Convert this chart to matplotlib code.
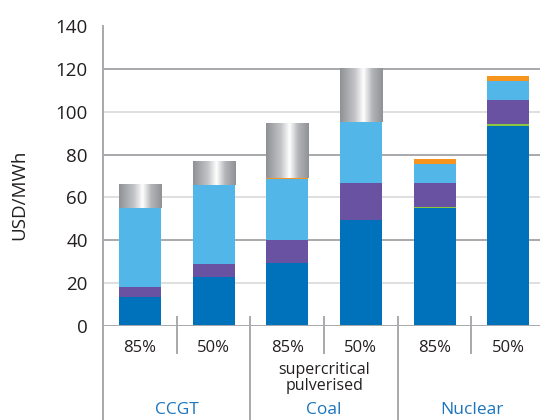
import numpy as np
import matplotlib
matplotlib.use('Agg')
import matplotlib.pyplot as plt
from matplotlib.colors import LinearSegmentedColormap

plt.rcParams['font.family'] = ['Open Sans', 'DejaVu Sans']

# valores (USD/MWh)
labels = ['85%', '50%', '85%', '50%', '85%', '50%']
groups = ['CCGT', 'Coal', 'Nuclear']
blue = [13.5, 23.0, 29.3, 49.5, 55.0, 93.4]
green = [0, 0, 0, 0, 0.6, 0.9]
purple = [4.7, 6.0, 10.8, 17.3, 11.2, 11.2]
light_blue = [37.0, 36.8, 28.7, 28.4, 8.8, 8.9]
orange = [0, 0, 0.3, 0, 2.4, 2.3]
gray = [11.2, 11.2, 25.5, 25.2, 0, 0]

fig = plt.figure(figsize=(5.4, 4.2), dpi=100)
ax = fig.add_axes([0.1907, 0.2238, 0.8093, 0.714])

x = np.arange(len(labels))
w = 0.57
bottom = np.zeros(len(labels))
for vals, col in [(blue, '#0071BB'), (green, '#8DC63F'), (purple, '#6A52A2'),
                  (light_blue, '#52B7E8'), (orange, '#F7941D')]:
    ax.bar(x, vals, w, bottom=bottom, color=col, zorder=3)
    bottom += np.array(vals)

# segmento cinza com degrade metalico
cmap = LinearSegmentedColormap.from_list('metal', [(0, '#8f9094'), (0.35, '#c4c5c8'),
                                                   (0.55, '#ffffff'), (0.75, '#b4b5b8'),
                                                   (1, '#909195')])
grad = np.linspace(0, 1, 256).reshape(1, -1)
bars = ax.bar(x, gray, w, bottom=bottom, color='none', zorder=3)
for b in bars:
    if b.get_height() == 0:
        continue
    im = ax.imshow(grad, cmap=cmap, aspect='auto', zorder=3,
                   extent=[b.get_x(), b.get_x() + b.get_width(),
                           b.get_y(), b.get_y() + b.get_height()])
    im.set_clip_path(b)

ax.set_xlim(-0.5, 5.43)
ax.set_ylim(0, 140)
ax.set_yticks(range(0, 141, 20))
ax.tick_params(axis='y', length=0, pad=11, labelsize=13.5, labelcolor='#231F20')
ax.set_xticks([])
for v in range(0, 121, 20):
    dark = v % 40 == 0
    ax.axhline(v, color='#A7A9AC' if dark else '#D9D9DA', lw=1.4 if dark else 1.2,
               zorder=1 if v else 4)
for s in ['top', 'right', 'bottom']:
    ax.spines[s].set_visible(False)
ax.spines['left'].set_color('#A7A9AC')
ax.spines['left'].set_linewidth(1.4)

ax.set_ylabel('USD/MWh', fontsize=13.5, color='#231F20')
ax.yaxis.set_label_coords(-0.17, 0.437)

tr = ax.get_xaxis_transform()
ax.plot([-0.5, -0.5], [0, -0.35], color='#A7A9AC', lw=1.4, transform=tr, clip_on=False)
for i in range(len(labels) - 1):
    xs = i + 0.5
    low = -0.35 if i % 2 == 1 else -0.09
    ax.plot([xs, xs], [0.03, low], color='#A7A9AC', lw=1.4, transform=tr, clip_on=False)
for i, lab in enumerate(labels):
    ax.text(i, -0.073, lab, transform=tr, ha='center', va='center',
            fontsize=12, color='#231F20')
ax.text(2.5, -0.175, 'supercritical\npulverised', transform=tr, ha='center', va='center',
        fontsize=11.5, color='#231F20', linespacing=1.0)
for j, g in enumerate(groups):
    ax.text(2 * j + 0.5, -0.308, g, transform=tr, ha='center', va='bottom',
            fontsize=12.5, color='#1C75BC')

fig.savefig('out.png', dpi=100)
